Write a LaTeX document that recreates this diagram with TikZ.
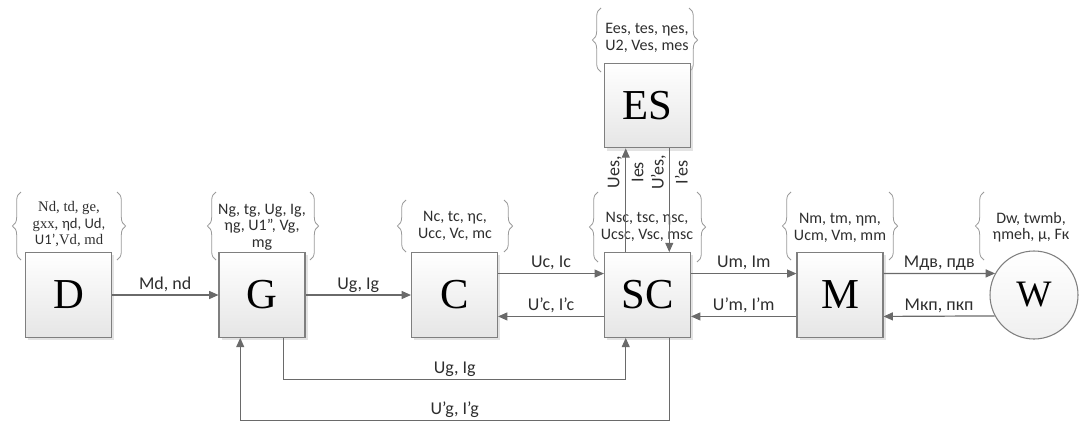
\documentclass[tikz,border=0pt]{standalone}
\usepackage{fontspec}
\setmainfont{Liberation Serif}
\setsansfont{Carlito}
\usetikzlibrary{arrows.meta,decorations.pathreplacing,shadows,calc}
\definecolor{linec}{HTML}{6A6A6A}
\definecolor{boxc}{HTML}{7F7F7F}
\definecolor{bracec}{HTML}{9A9A9A}
\definecolor{txtc}{HTML}{2E2E2E}
\tikzset{
  blk/.style={draw=boxc, line width=0.8pt, top color=white, bottom color=black!10,
    minimum width=64.5pt, minimum height=63.5pt, inner sep=0pt, text=black,
    font=\rmfamily\fontsize{32}{32}\selectfont,
    drop shadow={shadow xshift=2pt, shadow yshift=-2pt, fill=black!22}},
  wheel/.style={circle, draw=boxc, line width=0.8pt, top color=white, bottom color=black!6,
    minimum size=66pt, inner sep=0pt, text=black, font=\rmfamily\fontsize{28}{28}\selectfont},
  arr/.style={draw=linec, line width=0.9pt, -{Triangle[length=7pt,width=6pt]}},
  lab/.style={anchor=base, yshift=4.5pt, inner sep=0pt, text=txtc,
    font=\sffamily\fontsize{13.5}{15}\selectfont},
  rlab/.style={rotate=90, align=center, inner sep=0pt, text=txtc,
    font=\sffamily\fontsize{13.5}{18}\selectfont},
  bt/.style={align=center, inner sep=0pt, text=txtc,
    font=\sffamily\fontsize{12}{12.2}\selectfont},
  brc/.style={decorate, decoration={brace, amplitude=6.5pt}, draw=bracec, line width=0.6pt}
}
\begin{document}
\begin{tikzpicture}[x=0.75pt,y=-0.75pt]
\useasboundingbox (0,0) rectangle (1081,422);
% braces
\draw[brc] (21,260) -- (21,192);   \draw[brc] (117,192) -- (117,260);
\draw[brc] (216,260) -- (216,192); \draw[brc] (310,192) -- (310,260);
\draw[brc] (406,252) -- (406,200); \draw[brc] (504,200) -- (504,252);
\draw[brc] (598,262) -- (598,192); \draw[brc] (697,192) -- (697,262);
\draw[brc] (791,260) -- (791,192); \draw[brc] (889,192) -- (889,260);
\draw[brc] (984,260) -- (984,192);
\draw[brc] (601,72) -- (601,8);    \draw[brc] (689,8) -- (689,72);
% brace texts
\node[bt, font=\rmfamily\fontsize{11}{12.4}\selectfont] (tD) at (69,224.5)
  {Nd, td, ge,\\gxx, {\sffamily ηd, Ud,}\\{\sffamily U1’},Vd, md};
\node[bt] (tG) at (262,227) {Ng, tg, Ug, Ig,\\ηg, U1”, Vg,\\mg};
\node[bt] (tC) at (455,226) {Nc, tc, ηc,\\Ucc, Vc, mc};
\node[bt] (tSC) at (647,227) {Nsc, tsc, ηsc,\\Ucsc, Vsc, msc};
\node[bt] (tM) at (840,228) {Nm, tm, ηm,\\Ucm, Vm, mm};
\node[bt] (tW) at (1031,227.5) {Dw, twmb,\\ηmeh, μ, Fк};
\node[bt] (tES) at (647,38) {Ees, tes, ηes,\\U2, Ves, mes};
% blocks
\node[blk] (D) at (68.5,295) {D};
\node[blk] (G) at (262,295) {G};
\node[blk] (C) at (454.5,295) {C};
\node[blk] (SC) at (647.5,295) {SC};
\node[blk] (M) at (840,295) {M};
\node[blk] (ES) at (647.5,105.5) {ES};
\node[wheel] (W) at (1034,295) {W};
% coordinates
\coordinate (c1) at ($(C.north east)!0.25!(C.south east)$);
\coordinate (c2) at ($(C.north east)!0.75!(C.south east)$);
\coordinate (sw1) at ($(SC.north west)!0.25!(SC.south west)$);
\coordinate (sw2) at ($(SC.north west)!0.75!(SC.south west)$);
\coordinate (se1) at ($(SC.north east)!0.25!(SC.south east)$);
\coordinate (se2) at ($(SC.north east)!0.75!(SC.south east)$);
\coordinate (mw1) at ($(M.north west)!0.25!(M.south west)$);
\coordinate (mw2) at ($(M.north west)!0.75!(M.south west)$);
\coordinate (me1) at ($(M.north east)!0.25!(M.south east)$);
\coordinate (me2) at ($(M.north east)!0.75!(M.south east)$);
\coordinate (g1) at ($(G.south west)!0.75!(G.south east)$);
\coordinate (g2) at ($(G.south west)!0.25!(G.south east)$);
\coordinate (s1) at ($(SC.south west)!0.25!(SC.south east)$);
\coordinate (s2) at ($(SC.south west)!0.75!(SC.south east)$);
\coordinate (s3) at ($(SC.north west)!0.25!(SC.north east)$);
\coordinate (s4) at ($(SC.north west)!0.75!(SC.north east)$);
\coordinate (e3) at ($(ES.south west)!0.25!(ES.south east)$);
\coordinate (e4) at ($(ES.south west)!0.75!(ES.south east)$);
% connectors
\draw[arr] (D.east) -- node[lab] {Md, nd} (G.west);
\draw[arr] (G.east) -- node[lab] {Ug, Ig} (C.west);
\draw[arr] (c1) -- node[lab] {Uc, Ic} (sw1);
\draw[arr] (sw2) -- node[lab] {U’c, I’c} (c2);
\draw[arr] (se1) -- node[lab] {Um, Im} (mw1);
\draw[arr] (mw2) -- node[lab] {U’m, I’m} (se2);
\draw[arr] (me1) -- node[lab] {Mдв, пдв} (W.151.5);
\draw[arr] (W.208.5) -- node[lab] {Mкп, пкп} (me2);
\draw[arr] (g1) -- ++(0,42) -| node[pos=0.25, lab] {Ug, Ig} (s1);
\draw[arr] (s2) -- ++(0,83) -| node[pos=0.25, lab] {U’g, I’g} (g2);
\draw[arr] (s3) -- node[pos=0.77, rlab] {Ues,\\Ies} (e3);
\draw[arr] (e4) -- node[pos=0.23, rlab] {U’es,\\I’es} (s4);
\end{tikzpicture}
\end{document}
